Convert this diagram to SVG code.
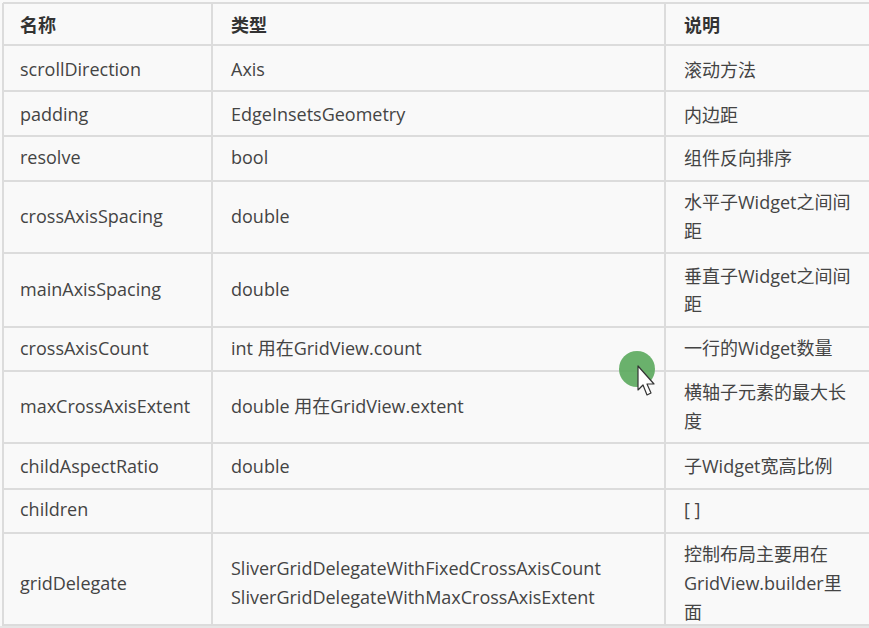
<svg xmlns="http://www.w3.org/2000/svg" width="869" height="628" viewBox="0 0 869 628">
<style>
.t{font-family:"Open Sans","Noto Sans CJK SC",sans-serif;font-size:18px;fill:#444}
.h{font-family:"Open Sans","Noto Sans CJK SC",sans-serif;font-size:18px;font-weight:bold;fill:#333}
.g{stroke:#dcdcdc;stroke-width:2;fill:none}
</style>
<rect x="0" y="0" width="869" height="628" fill="#f9f9f9"/>
<g id="grid" class="g">
<line x1="3" y1="3" x2="869" y2="3"/>
<line x1="3" y1="3" x2="3" y2="628"/>
<line x1="212" y1="3" x2="212" y2="628"/>
<line x1="665" y1="3" x2="665" y2="628"/>
<line x1="3" y1="45" x2="869" y2="45"/>
<line x1="3" y1="91" x2="869" y2="91"/>
<line x1="3" y1="136" x2="869" y2="136"/>
<line x1="3" y1="181" x2="869" y2="181"/>
<line x1="3" y1="253" x2="869" y2="253"/>
<line x1="3" y1="327" x2="869" y2="327"/>
<line x1="3" y1="371" x2="869" y2="371"/>
<line x1="3" y1="443" x2="869" y2="443"/>
<line x1="3" y1="489" x2="869" y2="489"/>
<line x1="3" y1="533" x2="869" y2="533"/>
<line x1="3" y1="625" x2="869" y2="625"/>
</g>
<rect x="0" y="626" width="869" height="2" fill="#e6e6e6"/>
<g id="header">
<text class="h" x="20" y="32">名称</text>
<text class="h" x="231" y="32">类型</text>
<text class="h" x="684" y="32">说明</text>
</g>
<g id="row-scrollDirection">
<text class="t" x="20" y="76">scrollDirection</text>
<text class="t" x="231" y="76">Axis</text>
<text class="t" x="684" y="77">滚动方法</text>
</g>
<g id="row-padding">
<text class="t" x="20" y="121">padding</text>
<text class="t" x="231" y="121">EdgeInsetsGeometry</text>
<text class="t" x="684" y="122">内边距</text>
</g>
<g id="row-resolve">
<text class="t" x="20" y="164">resolve</text>
<text class="t" x="231" y="164">bool</text>
<text class="t" x="684" y="165">组件反向排序</text>
</g>
<g id="row-crossAxisSpacing">
<text class="t" x="20" y="223">crossAxisSpacing</text>
<text class="t" x="231" y="223">double</text>
<text class="t" x="684" y="209">水平子Widget之间间</text>
<text class="t" x="684" y="238">距</text>
</g>
<g id="row-mainAxisSpacing">
<text class="t" x="20" y="296">mainAxisSpacing</text>
<text class="t" x="231" y="296">double</text>
<text class="t" x="684" y="283">垂直子Widget之间间</text>
<text class="t" x="684" y="311">距</text>
</g>
<g id="row-crossAxisCount">
<text class="t" x="20" y="355">crossAxisCount</text>
<text class="t" x="231" y="355">int 用在GridView.count</text>
<text class="t" x="684" y="355">一行的Widget数量</text>
</g>
<g id="row-maxCrossAxisExtent">
<text class="t" x="20" y="413">maxCrossAxisExtent</text>
<text class="t" x="231" y="413">double 用在GridView.extent</text>
<text class="t" x="684" y="399">横轴子元素的最大长</text>
<text class="t" x="684" y="428">度</text>
</g>
<g id="row-childAspectRatio">
<text class="t" x="20" y="473">childAspectRatio</text>
<text class="t" x="231" y="473">double</text>
<text class="t" x="684" y="473">子Widget宽高比例</text>
</g>
<g id="row-children">
<text class="t" x="20" y="516">children</text>
<text class="t" x="684" y="516">[ ]</text>
</g>
<g id="row-gridDelegate">
<text class="t" x="20" y="590">gridDelegate</text>
<text class="t" x="231" y="575">SliverGridDelegateWithFixedCrossAxisCount</text>
<text class="t" x="231" y="604">SliverGridDelegateWithMaxCrossAxisExtent</text>
<text class="t" x="684" y="561">控制布局主要用在</text>
<text class="t" x="684" y="590">GridView.builder里</text>
<text class="t" x="684" y="619">面</text>
</g>
<g id="cursor">
<circle cx="637" cy="369" r="18" fill="#5aa85c" opacity="0.9"/>
<path d="M638,366 L638,390 L643,385 L647,395 L651,393 L647,384 L654,384 Z" fill="#ffffff" stroke="#333" stroke-width="1.2" stroke-linejoin="round"/>
</g>
</svg>
